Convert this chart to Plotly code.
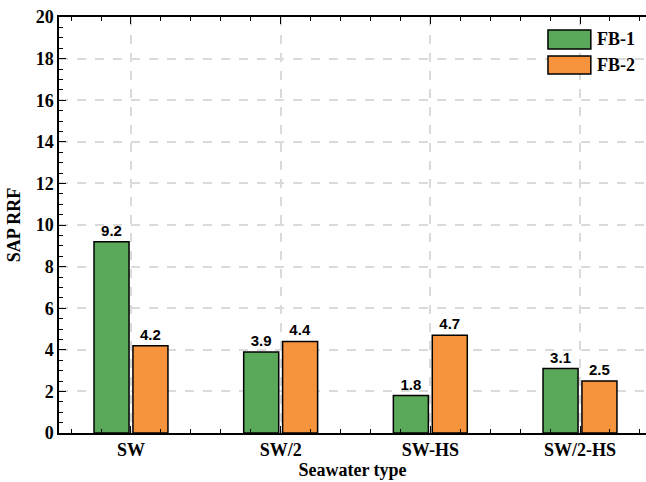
import plotly.graph_objects as go

categories = ["SW", "SW/2", "SW-HS", "SW/2-HS"]
series_names = ["FB-1", "FB-2"]
fb1_values = [9.2, 3.9, 1.8, 3.1]
fb2_values = [4.2, 4.4, 4.7, 2.5]
y_ticks = [0, 2, 4, 6, 8, 10, 12, 14, 16, 18, 20]

colors = ["#5aa95a", "#f7933d"]
xpos = list(range(len(categories)))

serif = "Liberation Serif, Times New Roman, serif"
sans = "Liberation Sans, Arial, sans-serif"

fig = go.Figure()
for name, vals, col in zip(series_names, [fb1_values, fb2_values], colors):
    fig.add_trace(go.Bar(
        x=xpos, y=vals, name=name,
        marker=dict(color=col, line=dict(color="black", width=1.5)),
        text=[f"{v:.1f}" for v in vals], textposition="outside",
        textfont=dict(family=sans, size=15, color="black", weight="bold"),
        cliponaxis=False, showlegend=False,
    ))

fig.update_layout(
    width=646, height=482,
    margin=dict(l=59, r=0, t=17, b=49),
    paper_bgcolor="white", plot_bgcolor="white",
    barmode="group", bargap=0.48, bargroupgap=0.1,
    font=dict(family=serif, color="black"),
)

fig.update_xaxes(
    range=[-0.481, 3.441], tickvals=xpos, ticktext=categories,
    tickfont=dict(family=serif, size=18, color="black", weight="bold"),
    showline=True, linecolor="black", linewidth=1.5, mirror="allticks",
    ticks="inside", ticklen=7, tickwidth=1.2, tickcolor="black",
    minor=dict(dtick=0.2, tick0=0, ticks="inside", ticklen=4, tickwidth=1, tickcolor="black", showgrid=False),
    showgrid=True, gridcolor="#dadada", griddash="dash", gridwidth=1.5,
    zeroline=False,
    title=dict(text="Seawater type", font=dict(family=serif, size=18, color="black", weight="bold"), standoff=2),
)
fig.update_yaxes(
    range=[0, 20], tickvals=y_ticks,
    tickfont=dict(family=serif, size=18, color="black", weight="bold"),
    showline=True, linecolor="black", linewidth=1.5, mirror=False,
    ticks="inside", ticklen=7, tickwidth=1.2, tickcolor="black",
    minor=dict(dtick=0.5, ticks="inside", ticklen=4, tickwidth=1, tickcolor="black", showgrid=False),
    showgrid=True, gridcolor="#dadada", griddash="dash", gridwidth=1.5,
    zeroline=False,
    title=dict(text="SAP RRF", font=dict(family=serif, size=18, color="black", weight="bold"), standoff=10),
)

# custom legend with large swatches
legend_rows = [(0.969, 0.923), (0.906, 0.863)]
for (y1, y0), name, col in zip(legend_rows, series_names, colors):
    fig.add_shape(type="rect", xref="paper", yref="paper",
                  x0=0.833, x1=0.906, y0=y0, y1=y1,
                  fillcolor=col, line=dict(color="black", width=1.5))
    fig.add_annotation(xref="paper", yref="paper", x=0.913, y=(y0 + y1) / 2,
                       text=name, showarrow=False, xanchor="left", yanchor="middle",
                       font=dict(family=serif, size=18, color="black", weight="bold"))

fig.write_html("out.html")
